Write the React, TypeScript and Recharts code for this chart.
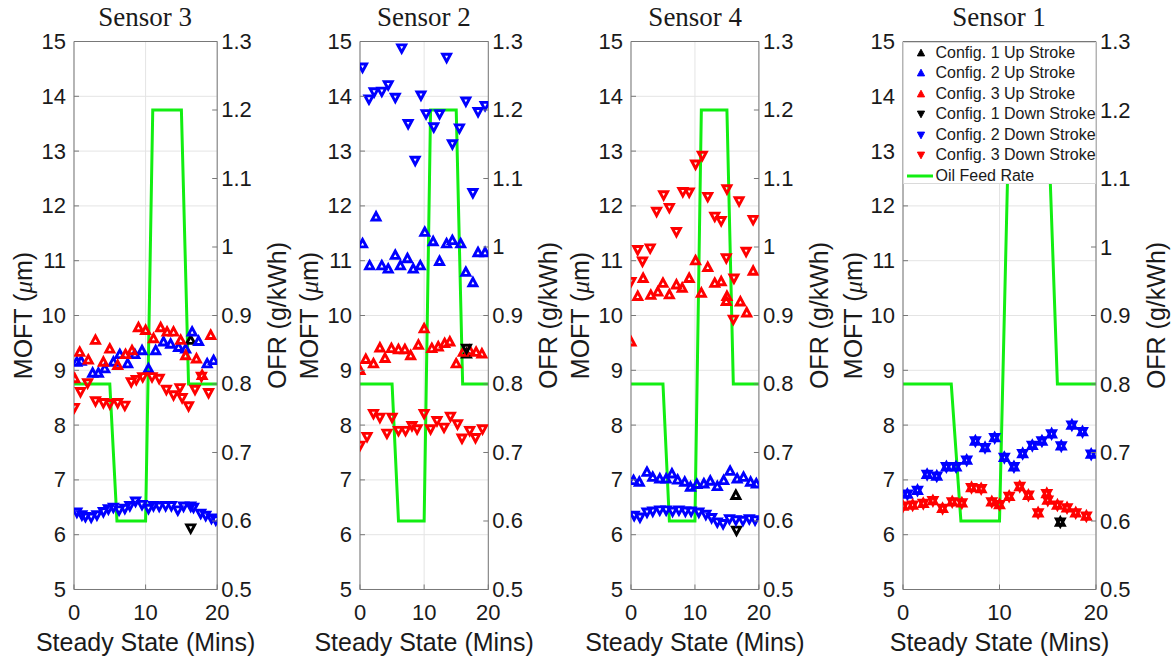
import React from 'react';
import {
  ComposedChart,
  Scatter,
  Line,
  XAxis,
  YAxis,
  CartesianGrid,
  ReferenceLine,
  Legend,
} from 'recharts';

type Pt = [number, number];

// ─── Data ────────────────────────────────────────────────────────

const timeTicks = [0, 10, 20];
const moftTicks = [5, 6, 7, 8, 9, 10, 11, 12, 13, 14, 15];
const ofrTicks = [0.5, 0.6, 0.7, 0.8, 0.9, 1, 1.1, 1.2, 1.3];

// oil feed rate schedule (g/kWh) over the steady-state run
const ofrTime = [0, 5, 6, 10, 11, 15, 16, 20];
const ofrRate = [0.8, 0.8, 0.6, 0.6, 1.2, 1.2, 0.8, 0.8];

// Sensor 3 — [minute, MOFT µm]
const s3C1Up: Pt[] = [[16.3, 9.55]];
const s3C2Up: Pt[] = [
  [0.4, 9.15], [1.0, 9.17], [2.6, 8.95], [3.4, 8.95], [4.3, 9.03], [5.5, 9.15],
  [6.4, 9.29], [7.5, 9.12], [8.5, 9.29], [9.5, 9.36], [10.4, 9.03], [11.4, 9.36],
  [12.5, 9.52], [13.5, 9.48], [14.6, 9.42], [15.6, 9.39], [16.5, 9.7], [17.4, 9.53],
  [18.6, 9.12], [19.5, 9.18],
];
const s3C3Up: Pt[] = [
  [0.1, 8.85], [0.8, 9.33], [2.0, 9.19], [3.0, 9.55], [4.1, 9.15], [5.0, 9.39],
  [6.1, 9.09], [7.2, 9.29], [8.1, 9.36], [9.0, 9.78], [10.0, 9.73], [11.1, 9.58],
  [12.1, 9.78], [13.0, 9.7], [13.9, 9.7], [14.9, 9.55], [15.6, 9.27], [17.1, 9.21],
  [17.9, 8.91], [19.1, 9.64],
];
const s3C1Down: Pt[] = [[16.3, 6.12]];
const s3C2Down: Pt[] = [
  [0.4, 6.41], [1.1, 6.36], [1.6, 6.33], [2.4, 6.32], [3.2, 6.36], [4.1, 6.42],
  [4.8, 6.47], [5.5, 6.5], [6.3, 6.45], [7.1, 6.48], [7.8, 6.53], [8.6, 6.61],
  [9.5, 6.55], [10.4, 6.48], [11.1, 6.53], [11.9, 6.52], [12.8, 6.53], [13.6, 6.53],
  [14.5, 6.45], [15.3, 6.52], [16.3, 6.52], [16.7, 6.5], [17.7, 6.39], [18.4, 6.35],
  [19.2, 6.3], [19.8, 6.27],
];
const s3C3Down: Pt[] = [
  [0.05, 8.32], [0.9, 8.61], [1.9, 8.77], [3.0, 8.44], [4.1, 8.41], [5.0, 8.39],
  [6.1, 8.41], [7.1, 8.36], [8.0, 8.79], [8.7, 8.83], [9.6, 8.88], [10.9, 8.88],
  [11.9, 8.85], [12.9, 8.65], [13.9, 8.55], [14.8, 8.68], [15.1, 8.5], [16.0, 8.35],
  [16.9, 8.65], [17.8, 8.89], [18.8, 8.59],
];

// Sensor 2
const s2C1Up: Pt[] = [[16.6, 9.3]];
const s2C2Up: Pt[] = [
  [0.4, 11.31], [1.5, 10.91], [2.5, 11.8], [3.4, 10.91], [4.4, 10.85], [5.5, 11.1],
  [6.3, 10.91], [7.4, 11.04], [8.3, 10.85], [9.4, 10.91], [10.1, 11.52], [11.4, 11.35],
  [12.4, 10.99], [13.5, 11.31], [14.4, 11.37], [15.7, 11.31], [16.5, 10.79], [17.6, 10.6],
  [18.4, 11.15], [19.5, 11.15],
];
const s2C3Up: Pt[] = [
  [0.0, 9.0], [0.9, 9.2], [2.1, 9.12], [3.1, 9.41], [3.9, 9.22], [4.9, 9.4],
  [6.0, 9.38], [7.0, 9.38], [7.9, 9.27], [9.1, 9.46], [10.0, 9.76], [11.2, 9.4],
  [12.2, 9.43], [13.2, 9.49], [14.0, 9.52], [15.0, 9.12], [16.1, 9.33], [17.1, 9.36],
  [18.1, 9.33], [19.0, 9.3],
];
const s2C1Down: Pt[] = [[16.6, 9.4]];
const s2C2Down: Pt[] = [
  [0.4, 14.53], [1.4, 13.95], [2.2, 14.08], [3.4, 14.09], [4.4, 14.21], [5.5, 13.98],
  [6.5, 14.88], [7.5, 13.5], [8.6, 12.83], [9.5, 14.02], [10.3, 13.68], [11.5, 13.44],
  [12.4, 13.68], [13.5, 14.71], [14.4, 13.13], [15.5, 13.42], [16.5, 13.91], [17.6, 12.24],
  [18.4, 13.72], [19.5, 13.83],
];
const s2C3Down: Pt[] = [
  [0.0, 7.63], [1.1, 7.79], [2.1, 8.21], [3.1, 8.14], [4.2, 7.85], [5.0, 8.14],
  [6.0, 7.9], [7.1, 7.9], [8.1, 7.99], [8.9, 7.93], [10.0, 8.21], [11.0, 7.93],
  [12.0, 8.08], [13.1, 7.96], [14.1, 8.16], [15.2, 8.02], [15.9, 7.76], [17.1, 7.9],
  [18.0, 7.77], [19.1, 7.93],
];

// Sensor 4
const s4C1Up: Pt[] = [[16.4, 6.72]];
const s4C2Up: Pt[] = [
  [0.4, 6.99], [1.3, 6.96], [2.5, 7.14], [3.4, 7.05], [4.5, 7.02], [5.5, 7.02],
  [6.4, 7.11], [7.3, 7.0], [8.4, 6.96], [9.3, 6.87], [10.3, 6.92], [11.4, 6.93],
  [12.4, 6.98], [13.5, 6.88], [14.5, 6.99], [15.5, 7.16], [16.6, 7.02], [17.6, 7.05],
  [18.7, 6.96], [19.6, 6.93],
];
const s4C3Up: Pt[] = [
  [0.0, 9.52], [1.05, 10.35], [1.9, 10.68], [3.1, 10.37], [4.2, 10.43], [5.0, 10.59],
  [6.0, 10.38], [7.1, 10.56], [8.0, 10.5], [9.1, 10.68], [10.1, 11.0], [11.0, 10.41],
  [12.0, 10.88], [13.1, 10.59], [14.1, 10.62], [14.9, 10.26], [15.0, 10.35], [17.1, 10.25],
  [18.1, 10.05], [19.1, 10.81],
];
const s4C1Down: Pt[] = [[16.5, 6.08]];
const s4C2Down: Pt[] = [
  [0.5, 6.35], [1.4, 6.32], [2.5, 6.41], [3.4, 6.43], [4.5, 6.45], [5.5, 6.45],
  [6.5, 6.43], [7.5, 6.45], [8.5, 6.43], [9.4, 6.43], [10.6, 6.41], [11.7, 6.37],
  [12.6, 6.31], [13.5, 6.23], [14.4, 6.2], [15.4, 6.29], [16.4, 6.27], [17.5, 6.26],
  [18.5, 6.29], [19.4, 6.27],
];
const s4C3Down: Pt[] = [
  [0.0, 10.62], [1.05, 11.2], [1.8, 10.99], [3.0, 11.23], [4.0, 11.9], [5.1, 12.2],
  [6.0, 11.97], [7.1, 11.53], [8.1, 12.26], [9.1, 12.25], [10.1, 12.76], [11.15, 12.92],
  [12.0, 12.17], [13.1, 11.81], [14.1, 11.73], [14.9, 11.05], [15.0, 12.31], [16.0, 9.93],
  [16.1, 10.68], [16.9, 12.09], [18.0, 11.17], [19.1, 11.75],
];

// Sensor 1 — up- and down-stroke readings coincide
const s1C1Up: Pt[] = [[16.3, 6.23]];
const s1C2Up: Pt[] = [
  [0.45, 6.74], [1.5, 6.81], [2.5, 7.1], [3.5, 7.07], [4.5, 7.24], [5.5, 7.24],
  [6.6, 7.36], [7.5, 7.71], [8.5, 7.59], [9.5, 7.77], [10.5, 7.41], [11.5, 7.24],
  [12.4, 7.48], [13.4, 7.63], [14.4, 7.71], [15.4, 7.84], [16.4, 7.62], [17.5, 8.0],
  [18.6, 7.88], [19.5, 7.47],
];
const s1C3Up: Pt[] = [
  [0.0, 6.52], [1.0, 6.54], [2.1, 6.57], [3.1, 6.62], [4.1, 6.48], [5.1, 6.6],
  [6.1, 6.58], [7.1, 6.86], [8.1, 6.84], [9.2, 6.6], [10.0, 6.55], [11.0, 6.7],
  [12.1, 6.88], [13.0, 6.72], [14.0, 6.4], [14.9, 6.75], [15.0, 6.63], [16.0, 6.54],
  [17.0, 6.49], [17.9, 6.4], [19.0, 6.34],
];
const s1C1Down = s1C1Up;
const s1C2Down = s1C2Up;
const s1C3Down = s1C3Up;

// ─── Styling / layout ────────────────────────────────────────────

const FIG_W = 1174;
const FIG_H = 658;
const PLOT_TOP = 41.5;
const PLOT_BOTTOM = 589.5;
const AXIS_L = 73;
const AXIS_R = 85;
const AXIS_COLOR = '#777777';
const GRID_COLOR = '#e4e4e4';
const TEXT_COLOR = '#1a1a1a';
const GREEN = '#12ee12';
const SANS = '"Liberation Sans", Arial, sans-serif';
const SERIF = '"Liberation Serif", "Times New Roman", serif';

type SeriesKey = 'c1Up' | 'c2Up' | 'c3Up' | 'c1Down' | 'c2Down' | 'c3Down';

const seriesMeta: { key: SeriesKey; name: string; color: string; up: boolean }[] = [
  { key: 'c1Up', name: 'Config. 1 Up Stroke', color: '#000000', up: true },
  { key: 'c2Up', name: 'Config. 2 Up Stroke', color: '#0000ff', up: true },
  { key: 'c3Up', name: 'Config. 3 Up Stroke', color: '#ff0000', up: true },
  { key: 'c1Down', name: 'Config. 1 Down Stroke', color: '#000000', up: false },
  { key: 'c2Down', name: 'Config. 2 Down Stroke', color: '#0000ff', up: false },
  { key: 'c3Down', name: 'Config. 3 Down Stroke', color: '#ff0000', up: false },
];

interface PanelDef {
  title: string;
  plotLeft: number;
  plotRight: number;
  series: Record<SeriesKey, Pt[]>;
  legend?: boolean;
}

const panels: PanelDef[] = [
  {
    title: 'Sensor 3', plotLeft: 73.5, plotRight: 216.7,
    series: { c1Up: s3C1Up, c2Up: s3C2Up, c3Up: s3C3Up, c1Down: s3C1Down, c2Down: s3C2Down, c3Down: s3C3Down },
  },
  {
    title: 'Sensor 2', plotLeft: 359.7, plotRight: 488,
    series: { c1Up: s2C1Up, c2Up: s2C2Up, c3Up: s2C3Up, c1Down: s2C1Down, c2Down: s2C2Down, c3Down: s2C3Down },
  },
  {
    title: 'Sensor 4', plotLeft: 631.3, plotRight: 759.2,
    series: { c1Up: s4C1Up, c2Up: s4C2Up, c3Up: s4C3Up, c1Down: s4C1Down, c2Down: s4C2Down, c3Down: s4C3Down },
  },
  {
    title: 'Sensor 1', plotLeft: 902.5, plotRight: 1095.5, legend: true,
    series: { c1Up: s1C1Up, c2Up: s1C2Up, c3Up: s1C3Up, c1Down: s1C1Down, c2Down: s1C2Down, c3Down: s1C3Down },
  },
];

const ofrData = ofrTime.map((t, i) => ({ x: t, y: ofrRate[i] }));

// ─── Marks ───────────────────────────────────────────────────────

const Triangle: React.FC<{ cx: number; cy: number; color: string; up: boolean; s?: number; filled?: boolean }> = ({
  cx, cy, color, up, s = 1, filled = false,
}) => {
  const hw = 4.0 * s;
  const tip = 4.2 * s;
  const base = 3.2 * s;
  const pts = up
    ? `${cx},${cy - tip} ${cx - hw},${cy + base} ${cx + hw},${cy + base}`
    : `${cx},${cy + tip} ${cx - hw},${cy - base} ${cx + hw},${cy - base}`;
  return (
    <polygon
      points={pts}
      fill={filled ? color : 'none'}
      stroke={color}
      strokeWidth={filled ? 1 : 2.9}
      strokeLinejoin="miter"
    />
  );
};

const fmtOfr = (v: number) => String(Number(v.toFixed(1)));

const XTick = (props: any) => {
  const { x, y, payload } = props;
  return (
    <g>
      <line x1={x} x2={x} y1={y} y2={y - 5} stroke={AXIS_COLOR} />
      <text x={x} y={y + 23} textAnchor="middle" dominantBaseline="central" fontSize={22} fontFamily={SANS} fill={TEXT_COLOR}>
        {payload.value}
      </text>
    </g>
  );
};

const LeftTick = (props: any) => {
  const { x, y, payload } = props;
  return (
    <g>
      <line x1={x} x2={x + 5} y1={y} y2={y} stroke={AXIS_COLOR} />
      <text x={x - 8} y={y} textAnchor="end" dominantBaseline="central" fontSize={22} fontFamily={SANS} fill={TEXT_COLOR}>
        {payload.value}
      </text>
    </g>
  );
};

const RightTick = (props: any) => {
  const { x, y, payload } = props;
  return (
    <g>
      <line x1={x} x2={x - 5} y1={y} y2={y} stroke={AXIS_COLOR} />
      <text x={x + 4} y={y} textAnchor="start" dominantBaseline="central" fontSize={22} fontFamily={SANS} fill={TEXT_COLOR}>
        {fmtOfr(payload.value)}
      </text>
    </g>
  );
};

const LegendBox = () => (
  <div
    style={{
      width: '100%', height: '100%', boxSizing: 'border-box', background: '#fff',
      border: '1px solid #dadada', fontFamily: SANS, fontSize: 16, color: TEXT_COLOR,
    }}
  >
    {seriesMeta.map((m) => (
      <div key={m.key} style={{ display: 'flex', alignItems: 'center', height: 20.5 }}>
        <svg width={31} height={20} style={{ flex: 'none' }}>
          <Triangle cx={17} cy={10} color={m.color} up={m.up} s={0.9} filled />
        </svg>
        <span style={{ whiteSpace: 'nowrap', marginLeft: 1 }}>{m.name}</span>
      </div>
    ))}
    <div style={{ display: 'flex', alignItems: 'center', height: 20.5 }}>
      <svg width={31} height={20} style={{ flex: 'none' }}>
        <line x1={3} x2={29} y1={10} y2={10} stroke={GREEN} strokeWidth={3} />
      </svg>
      <span style={{ whiteSpace: 'nowrap', marginLeft: 1 }}>Oil Feed Rate</span>
    </div>
  </div>
);

// ─── Panel ───────────────────────────────────────────────────────

const SensorPanel: React.FC<{ panel: PanelDef }> = ({ panel }) => {
  const plotW = panel.plotRight - panel.plotLeft;
  const width = AXIS_L + plotW + AXIS_R;
  const midY = (PLOT_TOP + PLOT_BOTTOM) / 2;

  const moftLabel = () => {
    const cx = AXIS_L - 50.5;
    return (
      <text
        x={cx} y={midY} transform={`rotate(-90, ${cx}, ${midY})`} textAnchor="middle"
        dominantBaseline="central" fontSize={25} fontFamily={SANS} fill={TEXT_COLOR}
      >
        MOFT (<tspan fontFamily={SERIF} fontStyle="italic">μ</tspan>m)
      </text>
    );
  };

  const ofrLabel = () => {
    const cx = AXIS_L + plotW + 60;
    return (
      <text
        x={cx} y={midY} transform={`rotate(-90, ${cx}, ${midY})`} textAnchor="middle"
        dominantBaseline="central" fontSize={25} fontFamily={SANS} fill={TEXT_COLOR}
      >
        OFR (g/kWh)
      </text>
    );
  };

  const timeLabel = () => (
    <text
      x={AXIS_L + plotW / 2} y={PLOT_BOTTOM + 52.5} textAnchor="middle" dominantBaseline="central"
      fontSize={25} fontFamily={SANS} fill={TEXT_COLOR}
    >
      Steady State (Mins)
    </text>
  );

  return (
    <div style={{ position: 'absolute', left: panel.plotLeft - AXIS_L, top: 0, width, height: FIG_H }}>
      <ComposedChart width={width} height={FIG_H} margin={{ top: PLOT_TOP, right: 0, bottom: 0, left: 0 }}>
        <CartesianGrid yAxisId="moft" stroke={GRID_COLOR} />
        <XAxis
          type="number" dataKey="x" domain={[0, 20]} ticks={timeTicks} interval={0} allowDataOverflow
          height={FIG_H - PLOT_BOTTOM} axisLine={{ stroke: AXIS_COLOR }} tickLine={false}
          tickSize={0} tickMargin={0} tick={<XTick />} label={{ content: timeLabel }}
        />
        <YAxis
          yAxisId="moft" type="number" dataKey="y" domain={[5, 15]} ticks={moftTicks} interval={0}
          allowDataOverflow width={AXIS_L} axisLine={{ stroke: AXIS_COLOR }} tickLine={false}
          tickSize={0} tickMargin={0} tick={<LeftTick />} label={{ content: moftLabel }}
        />
        <YAxis
          yAxisId="ofr" orientation="right" type="number" dataKey="y" domain={[0.5, 1.3]} ticks={ofrTicks}
          interval={0} allowDataOverflow width={AXIS_R} axisLine={{ stroke: AXIS_COLOR }} tickLine={false}
          tickSize={0} tickMargin={0} tick={<RightTick />} label={{ content: ofrLabel }}
        />
        <ReferenceLine yAxisId="moft" y={15} stroke={AXIS_COLOR} />

        {seriesMeta.map((m) => (
          <Scatter
            key={m.key}
            name={m.name}
            yAxisId="moft"
            data={panel.series[m.key].map(([x, y]) => ({ x, y }))}
            isAnimationActive={false}
            shape={(p: any) => <Triangle cx={p.cx} cy={p.cy} color={m.color} up={m.up} />}
          />
        ))}

        <Line
          yAxisId="ofr" data={ofrData} dataKey="y" type="linear" stroke={GREEN} strokeWidth={3}
          dot={false} activeDot={false} isAnimationActive={false} name="Oil Feed Rate"
        />

        {panel.legend && (
          <Legend
            layout="vertical" verticalAlign="middle" align="center" content={<LegendBox />}
            wrapperStyle={{ left: AXIS_L, top: PLOT_TOP, width: plotW + 0.5, height: 142, bottom: 'auto' }}
          />
        )}
      </ComposedChart>

      <div
        style={{
          position: 'absolute', left: AXIS_L - 40, width: plotW + 80, top: 0, height: 35,
          lineHeight: '35px', textAlign: 'center', fontFamily: SERIF, fontSize: 27,
          color: TEXT_COLOR, whiteSpace: 'nowrap',
        }}
      >
        {panel.title}
      </div>
    </div>
  );
}

export default function App() {
  return (
    <div style={{ position: 'absolute', left: 0, top: 0, width: FIG_W, height: FIG_H, background: '#fff', overflow: 'hidden' }}>
      {panels.map((p) => (
        <SensorPanel key={p.title} panel={p} />
      ))}
    </div>
  );
}
